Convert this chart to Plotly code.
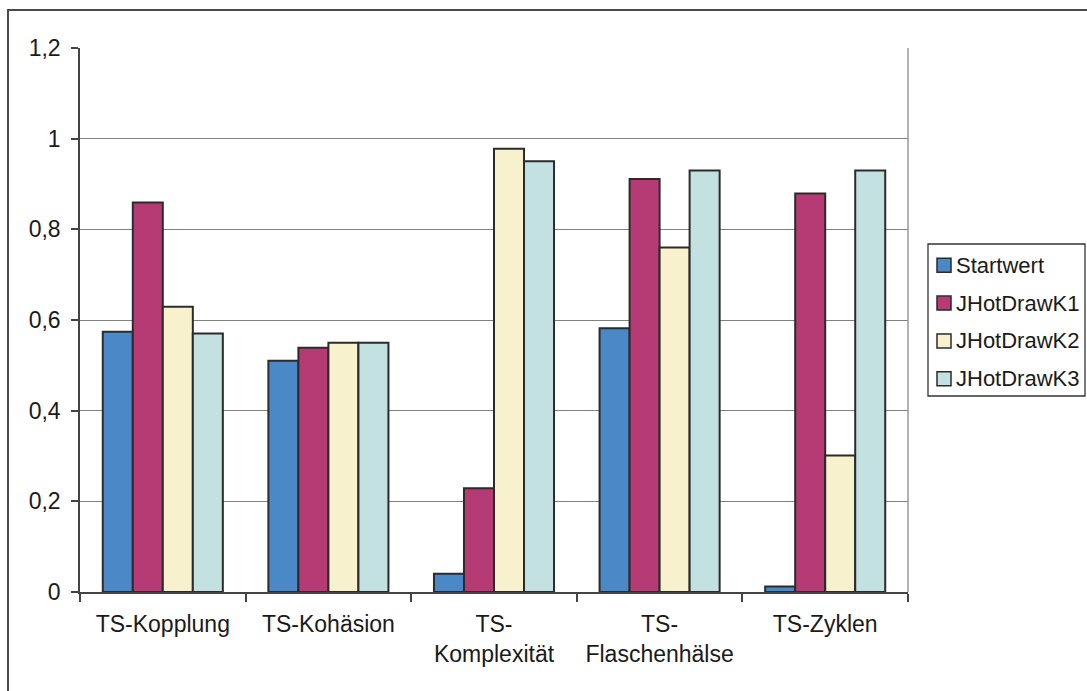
import plotly.graph_objects as go

# Kennzahlen je Testsystem-Metrik
categories = ["TS-Kopplung", "TS-Kohäsion", "TS-<br>Komplexität", "TS-<br>Flaschenhälse", "TS-Zyklen"]
series_names = ["Startwert", "JHotDrawK1", "JHotDrawK2", "JHotDrawK3"]
startwert = [0.574, 0.51, 0.04, 0.582, 0.012]
jhotdraw_k1 = [0.859, 0.539, 0.229, 0.911, 0.879]
jhotdraw_k2 = [0.629, 0.55, 0.978, 0.76, 0.301]
jhotdraw_k3 = [0.57, 0.55, 0.95, 0.93, 0.93]
y_ticks = [0, 0.2, 0.4, 0.6, 0.8, 1.0, 1.2]

series_values = [startwert, jhotdraw_k1, jhotdraw_k2, jhotdraw_k3]
colors = ["#4B88C8", "#B63B74", "#F8F1CE", "#C3E1E0"]

W, H = 1087, 691
L, R, T, B = 80, 179, 48, 99
FONT = "Liberation Sans, Arial, sans-serif"
FS = 23
TEXT = "#1a1a1a"
EDGE = "#2b2b2b"

fig = go.Figure()
for name, vals, col in zip(series_names, series_values, colors):
    fig.add_trace(go.Bar(
        x=categories, y=vals, name=name, showlegend=False,
        marker=dict(color=col, line=dict(color=EDGE, width=2)),
    ))

pw, ph = W - L - R, H - T - B


def px_x(p):
    return (p - L) / pw


def px_y(p):
    return (H - B - p) / ph


shapes = [
    # right frame of the plot area
    dict(type="line", xref="paper", yref="paper", x0=1, x1=1, y0=0, y1=1,
         line=dict(color="#9a9a9a", width=1.5)),
    # outer chart border (left and top edges)
    dict(type="rect", xref="paper", yref="paper",
         x0=px_x(8), x1=px_x(W + 10), y0=px_y(H + 10), y1=px_y(10),
         line=dict(color="#4a4a4a", width=2), layer="below"),
    # legend box
    dict(type="rect", xref="paper", yref="paper",
         x0=px_x(928), x1=px_x(1085), y0=px_y(396), y1=px_y(244),
         line=dict(color="#333333", width=1.3), fillcolor="white"),
]
annotations = []

# legend entries: swatch + label
legend_top, legend_step = 265.3, 37.8
for i, (name, col) in enumerate(zip(series_names, colors)):
    cy = legend_top + i * legend_step
    shapes.append(dict(
        type="rect", xref="paper", yref="paper",
        x0=px_x(937), x1=px_x(951), y0=px_y(cy + 7), y1=px_y(cy - 7),
        fillcolor=col, line=dict(color=EDGE, width=1.5),
    ))
    annotations.append(dict(
        xref="paper", yref="paper", x=px_x(954), y=px_y(cy),
        xanchor="left", yanchor="middle", text=name, showarrow=False,
        font=dict(family=FONT, size=22, color=TEXT),
    ))

fig.update_layout(
    width=W, height=H,
    margin=dict(l=L, r=R, t=T, b=B, pad=0),
    paper_bgcolor="white", plot_bgcolor="white",
    separators=",.",
    barmode="group", bargap=0.275, bargroupgap=0,
    font=dict(family=FONT, size=FS, color=TEXT),
    shapes=shapes, annotations=annotations,
    showlegend=False,
    xaxis=dict(
        showline=True, linecolor="#444444", linewidth=1.5,
        ticks="outside", tickson="boundaries", ticklen=8,
        tickcolor="#444444", tickwidth=1.5, ticklabelstandoff=11,
        showgrid=False, tickfont=dict(size=FS),
    ),
    yaxis=dict(
        range=[0, 1.2], tickvals=y_ticks, showline=True,
        linecolor="#444444", linewidth=1.5,
        ticks="outside", ticklen=7, tickcolor="#444444", tickwidth=1.5,
        ticklabelstandoff=6,
        showgrid=True, gridcolor="#808080", gridwidth=1.3,
        zeroline=False, tickfont=dict(size=FS),
    ),
)

fig.write_html("out.html")
